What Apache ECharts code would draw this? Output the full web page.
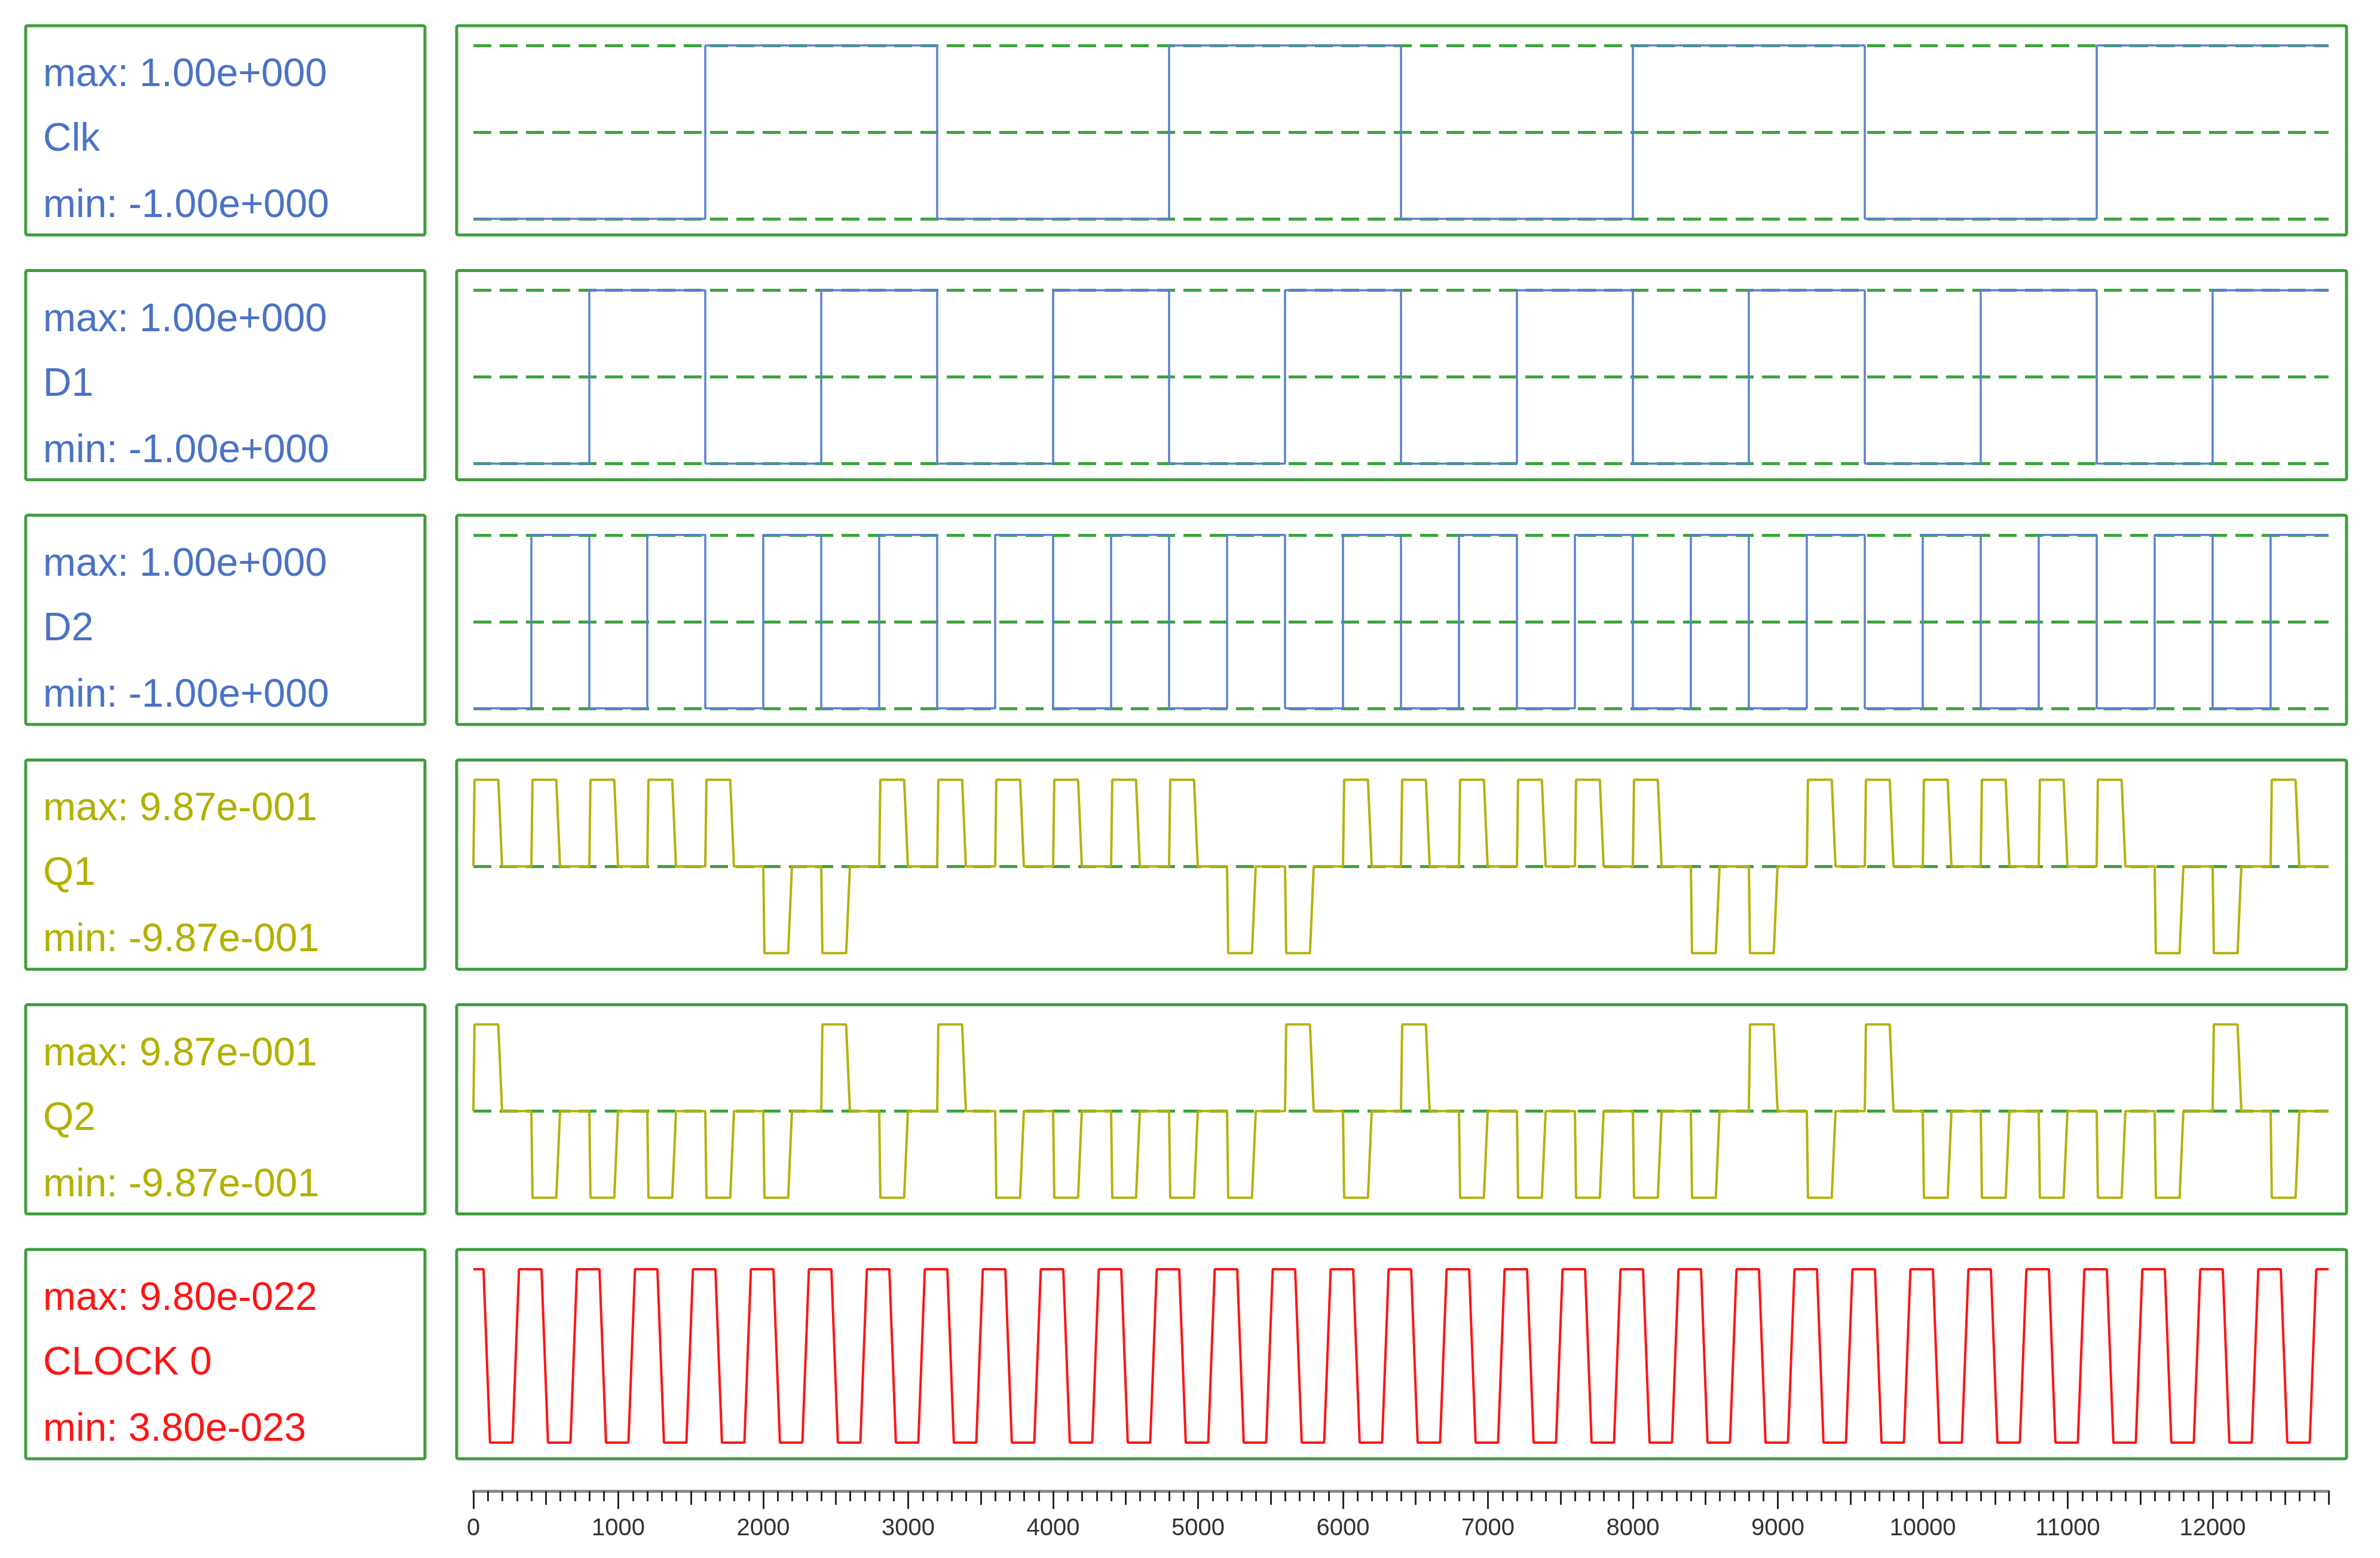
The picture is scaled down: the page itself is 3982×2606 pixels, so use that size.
<!DOCTYPE html>
<html>
<head>
<meta charset="utf-8">
<script src="https://cdn.jsdelivr.net/npm/echarts@6/dist/echarts.min.js"></script>
<style>
html,body{margin:0;padding:0;background:#ffffff;}
#chart{width:3982px;height:2606px;}
</style>
</head>
<body>
<div id="chart"></div>
<script>
// ---------- data ----------
const signalNames = ['Clk', 'D1', 'D2', 'Q1', 'Q2', 'CLOCK 0'];
const maxLabels = ['max: 1.00e+000', 'max: 1.00e+000', 'max: 1.00e+000', 'max: 9.87e-001', 'max: 9.87e-001', 'max: 9.80e-022'];
const minLabels = ['min: -1.00e+000', 'min: -1.00e+000', 'min: -1.00e+000', 'min: -9.87e-001', 'min: -9.87e-001', 'min: 3.80e-023'];
const signalMax = [1, 1, 1, 0.987, 0.987, 9.80e-22];
const signalMin = [-1, -1, -1, -0.987, -0.987, 3.80e-23];
const timeEnd = 12800;

// square signals: [time, value] at every change (held until next point)
const clkSteps = [[0,-1],[1600,1],[3200,-1],[4800,1],[6400,-1],[8000,1],[9600,-1],[11200,1],[12800,1]];
const d1Steps = [[0,-1],[800,1],[1600,-1],[2400,1],[3200,-1],[4000,1],[4800,-1],[5600,1],[6400,-1],[7200,1],[8000,-1],[8800,1],[9600,-1],[10400,1],[11200,-1],[12000,1],[12800,1]];
const d2Steps = [[0,-1],[400,1],[800,-1],[1200,1],[1600,-1],[2000,1],[2400,-1],[2800,1],[3200,-1],[3600,1],[4000,-1],[4400,1],[4800,-1],[5200,1],[5600,-1],[6000,1],[6400,-1],[6800,1],[7200,-1],[7600,1],[8000,-1],[8400,1],[8800,-1],[9200,1],[9600,-1],[10000,1],[10400,-1],[10800,1],[11200,-1],[11600,1],[12000,-1],[12400,1],[12800,1]];

// Q1 / Q2: one pulse per 400-unit clock period, +1 = up to max, -1 = down to min
const pulsePeriod = 400;
const q1Pulses = [1,1,1,1,1,-1,-1,1,1,1,1,1,1,-1,-1,1,1,1,1,1,1,-1,-1,1,1,1,1,1,1,-1,-1,1];
const q2Pulses = [1,-1,-1,-1,-1,-1,1,-1,1,-1,-1,-1,-1,-1,1,-1,1,-1,-1,-1,-1,-1,1,-1,1,-1,-1,-1,-1,-1,1,-1];
// pulse outline inside one period: [time offset, fraction of pulse level]
const qPulseShape = [[0,0],[8,1],[172,1],[198,0]];

// CLOCK 0: outline inside one 400-unit period: [time offset, 1 = max / 0 = min]
const clock0Periods = 32;
const clock0Shape = [[0,1],[70,1],[115,0],[270,0],[315,1]];

// ---------- styling / layout ----------
const blue = '#4a72c6', blueLine = '#5a80d2';
const olive = '#b2b000', oliveLine = '#b4b20c';
const red = '#ff1414';
const textColors = [blue, blue, blue, olive, olive, red];
const lineColors = [blueLine, blueLine, blueLine, oliveLine, oliveLine, red];
const lineWidths = [3.5, 3.5, 3.5, 4, 4, 4];
const boxGreen = '#3f9d3f';
const dashGreen = '#3da43d';
const rowTop0 = 43, rowStep = 409.4, rowH = 350;
const leftBoxX = 43, leftBoxW = 668;
const plotBoxX = 764, plotBoxW = 3162;
const dataLeft = 792, dataWidth = 3104;
const fontFam = '"Liberation Sans", Arial, sans-serif';

// ---------- build series data ----------
function pulseSeries(levels, amp) {
  const pts = [];
  levels.forEach((lv, k) => {
    qPulseShape.forEach(([dt, f]) => pts.push([k * pulsePeriod + dt, lv * f * amp]));
  });
  pts.push([timeEnd, 0]);
  return pts;
}
function clockSeries(hi, lo) {
  const pts = [];
  for (let k = 0; k < clock0Periods; k++) {
    clock0Shape.forEach(([dt, f]) => pts.push([k * pulsePeriod + dt, f ? hi : lo]));
  }
  pts.push([timeEnd, hi]);
  return pts;
}
const seriesData = [
  clkSteps, d1Steps, d2Steps,
  pulseSeries(q1Pulses, signalMax[3]),
  pulseSeries(q2Pulses, signalMax[4]),
  clockSeries(signalMax[5], signalMin[5])
];
const isStep = [true, true, true, false, false, false];

const grids = [], xAxes = [], yAxes = [], series = [], graphics = [];
signalNames.forEach((name, i) => {
  const top = rowTop0 + i * rowStep;
  grids.push({ left: dataLeft, width: dataWidth, top: top + 33, height: 290 });
  xAxes.push({ gridIndex: i, type: 'value', min: 0, max: timeEnd, show: false });
  yAxes.push({ gridIndex: i, type: 'value', min: signalMin[i], max: signalMax[i], show: false });
  const mid = (signalMax[i] + signalMin[i]) / 2;
  series.push({
    type: 'line', name: name, xAxisIndex: i, yAxisIndex: i,
    data: seriesData[i], step: isStep[i] ? 'end' : false,
    showSymbol: false, symbol: 'none', z: 3, clip: false,
    lineStyle: { color: lineColors[i], width: lineWidths[i] },
    markLine: {
      silent: true, symbol: 'none', z: 1, animation: false,
      label: { show: false },
      lineStyle: { color: dashGreen, type: [30, 14], width: 5 },
      emphasis: { disabled: true },
      data: [{ yAxis: signalMax[i] }, { yAxis: mid }, { yAxis: signalMin[i] }]
    }
  });
  graphics.push({
    type: 'rect', shape: { x: leftBoxX, y: top, width: leftBoxW, height: rowH, r: 3 },
    style: { fill: 'none', stroke: boxGreen, lineWidth: 5 }, silent: true
  });
  graphics.push({
    type: 'rect', shape: { x: plotBoxX, y: top, width: plotBoxW, height: rowH, r: 3 },
    style: { fill: 'none', stroke: boxGreen, lineWidth: 5 }, silent: true
  });
  [[maxLabels[i], 83], [name, 191], [minLabels[i], 302]].forEach(([txt, dy]) => {
    graphics.push({
      type: 'text', x: 72, y: top + dy, silent: true,
      style: { text: txt, fill: textColors[i], font: '66px ' + fontFam, verticalAlign: 'middle', align: 'left' }
    });
  });
});

// time ruler
const rg = signalNames.length;
grids.push({ left: dataLeft, width: dataWidth, top: 2490, height: 4 });
yAxes.push({ gridIndex: rg, type: 'value', show: false });
const tickColor = '#262626';
xAxes.push({
  gridIndex: rg, type: 'value', min: 0, max: timeEnd, interval: 100, position: 'bottom',
  axisLine: { show: false }, splitLine: { show: false }, axisLabel: { show: false },
  axisTick: { show: true, length: 17, lineStyle: { color: tickColor, width: 3 } }
});
xAxes.push({
  gridIndex: rg, type: 'value', min: 0, max: timeEnd, interval: 500, position: 'bottom',
  axisLine: { show: false }, splitLine: { show: false }, axisLabel: { show: false },
  axisTick: { show: true, length: 23, lineStyle: { color: tickColor, width: 3 } }
});
xAxes.push({
  gridIndex: rg, type: 'value', min: 0, max: timeEnd, interval: 1000, position: 'bottom',
  axisLine: { show: true, lineStyle: { color: '#8a8a8a', width: 5 } },
  splitLine: { show: false },
  axisTick: { show: true, length: 30, lineStyle: { color: tickColor, width: 3 } },
  axisLabel: {
    show: true, margin: 43, fontSize: 40, color: '#333333', fontFamily: fontFam,
    showMaxLabel: false, formatter: (v) => String(v)
  }
});

const chart = echarts.init(document.getElementById('chart'), null, { renderer: 'canvas' });
chart.setOption({
  animation: false,
  backgroundColor: '#ffffff',
  grid: grids,
  xAxis: xAxes,
  yAxis: yAxes,
  series: series,
  graphic: graphics
});
</script>
</body>
</html>
